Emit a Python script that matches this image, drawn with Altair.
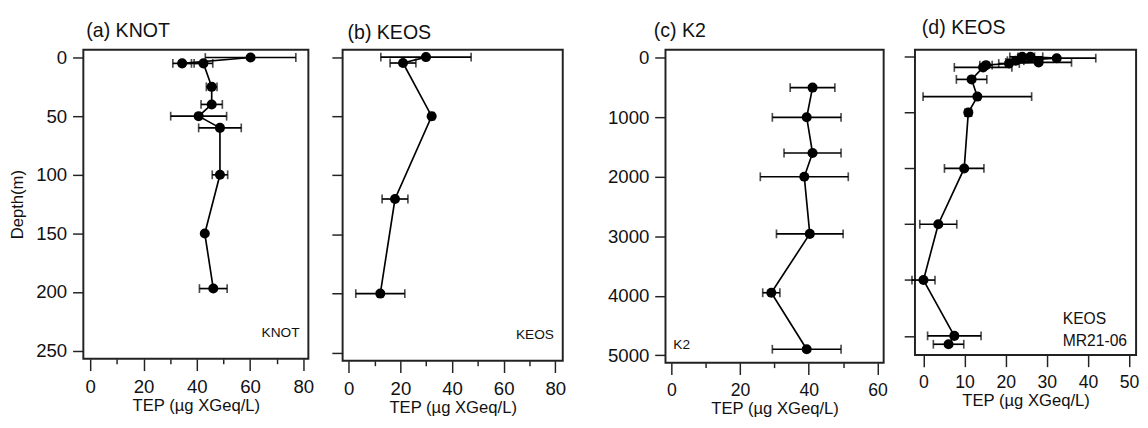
import altair as alt
import pandas as pd

FONT = "Liberation Sans"

# ---- data ----
a_depth = [0, 5, 5, 25, 40, 50, 60, 100, 150, 197]
a_tep = [60.2, 34.5, 42.5, 45.6, 45.6, 40.7, 48.7, 48.7, 43.0, 46.2]
a_err = [17.0, 3.5, 3.5, 2.0, 4.0, 10.5, 8.0, 2.9, 0.0, 5.2]

b_depth = [0, 5, 50, 120, 200]
b_tep = [29.9, 21.0, 32.1, 17.9, 12.2]
b_err = [17.5, 5.0, 1.0, 5.0, 9.5]

c_depth = [500, 1000, 1600, 2000, 2960, 3950, 4900]
c_tep = [41.1, 39.4, 41.1, 38.7, 40.3, 29.1, 39.4]
c_err = [6.5, 10.0, 8.3, 12.8, 9.7, 2.5, 10.0]

d_depth = [0, 0, 25, 70, 100, 120, 150, 190, 405, 713, 1000, 2000, 3000, 4000, 5000, 5150]
d_tep = [24.0, 26.0, 32.4, 22.4, 28.0, 20.8, 15.2, 14.5, 11.7, 13.1, 10.9, 9.9, 3.6, 0.0, 7.5, 6.1]
d_err = [3.0, 3.0, 9.5, 2.0, 8.0, 2.5, 1.5, 7.0, 3.7, 13.2, 0.8, 4.8, 4.5, 2.8, 6.5, 3.7]

x_title = "TEP (µg XGeq/L)"
y_title = "Depth(m)"


def frame(depth, tep, err):
    df = pd.DataFrame({"depth": depth, "tep": tep, "err": err})
    df["idx"] = range(len(df))
    df["lo"] = df["tep"] - df["err"]
    df["hi"] = df["tep"] + df["err"]
    return df


def panel(df, title, xdom, ydom, xvals, major, yvals, ylabels, width, height,
          tdx, toffset, notes, lab_size=19, show_ytitle=False):
    tick_cond = {"condition": {"test": f"datum.value % {major} !== 0", "value": 5}, "value": 12}
    xaxis = alt.Axis(values=xvals, tickSize=tick_cond, tickWidth=1.5, tickColor="#222",
                     labelExpr=f"datum.value % {major} === 0 ? datum.label : ''",
                     labelFont=FONT, labelFontSize=lab_size, labelColor="#111",
                     labelPadding=7, labelFlush=False,
                     title=x_title, titleFont=FONT, titleFontSize=17,
                     titleFontWeight="normal", titleColor="#111", titlePadding=2,
                     domain=False, grid=False)
    yaxis = alt.Axis(values=yvals, tickSize=11, tickWidth=1.5, tickColor="#222",
                     labels=ylabels, format="d", labelFont=FONT, labelFontSize=19,
                     labelColor="#111", labelPadding=6, labelFlush=False,
                     title=y_title if show_ytitle else None, titleFont=FONT,
                     titleFontSize=17, titleFontWeight="normal", titleColor="#111",
                     titlePadding=9, domain=False, grid=False)
    xs = alt.Scale(domain=xdom, nice=False, zero=False)
    ys = alt.Scale(domain=ydom, reverse=True, nice=False, zero=False)

    base = alt.Chart(df)
    y = alt.Y("depth:Q", scale=ys, axis=yaxis)
    line = base.mark_line(color="black", strokeWidth=1.7).encode(
        x=alt.X("tep:Q", scale=xs, axis=xaxis), y=y, order="idx:Q")
    eb = base.transform_filter("datum.err > 0")
    rule = eb.mark_rule(color="black", strokeWidth=1.7).encode(
        x=alt.X("lo:Q", scale=xs, axis=xaxis), x2="hi:Q", y=y)
    cap_lo = eb.mark_tick(orient="vertical", size=9, thickness=1.7, color="black").encode(
        x=alt.X("lo:Q", scale=xs, axis=xaxis), y=y)
    cap_hi = eb.mark_tick(orient="vertical", size=9, thickness=1.7, color="black").encode(
        x=alt.X("hi:Q", scale=xs, axis=xaxis), y=y)
    pts = base.mark_circle(size=105, opacity=1, color="black").encode(
        x=alt.X("tep:Q", scale=xs, axis=xaxis), y=y)
    layers = [line, rule, cap_lo, cap_hi, pts]
    for (txt, px, py, size, align) in notes:
        layers.append(alt.Chart(pd.DataFrame({"t": [txt]})).mark_text(
            font=FONT, fontSize=size, align=align, baseline="middle", color="#111"
        ).encode(text="t:N", x=alt.value(px), y=alt.value(py)))
    return alt.layer(*layers).properties(
        width=width, height=height,
        title=alt.TitleParams(title, anchor="start", frame="group", font=FONT, fontSize=20,
                              fontWeight="normal", color="#111", dx=tdx, offset=toffset))


A = panel(frame(a_depth, a_tep, a_err), "(a) KNOT", [-2.6, 81.9], [-6.7, 256.9],
          list(range(0, 81, 10)), 20, list(range(0, 251, 50)), True, 230, 316,
          3, 8, [("KNOT", 221, 290, 14, "right")], show_ytitle=True)
B = panel(frame(b_depth, b_tep, b_err), "(b) KEOS", [-2.4, 82.9], [-6.3, 256.8],
          list(range(0, 81, 10)), 20, list(range(0, 251, 50)), False, 225, 318,
          5, 7, [("KEOS", 216, 292, 14, "right")])
C = panel(frame(c_depth, c_tep, c_err), "(c) K2", [-1.7, 61.8], [-138, 5127],
          list(range(0, 61, 10)), 20, list(range(0, 5001, 1000)), True, 223, 320,
          -12, 8, [("K2", 8, 302, 14, "left")], lab_size=18)
D = panel(frame(d_depth, d_tep, d_err), "(d) KEOS", [-2.07, 51.7], [-128, 5341],
          list(range(0, 51, 10)), 10, list(range(0, 5001, 1000)), False, 226, 312,
          7, 12, [("KEOS", 151, 275, 16, "left"), ("MR21-06", 151, 298, 16, "left")],
          lab_size=18)

chart = alt.hconcat(
    alt.hconcat(A, B, spacing=15),
    alt.hconcat(C, D, spacing=14),
    spacing=40,
).configure(
    padding={"left": 0, "top": 5, "right": 0, "bottom": 0}, background="white"
).configure_view(stroke="#222", strokeWidth=2)

chart.save("out.html", embed_options={"renderer": "svg", "actions": False})
